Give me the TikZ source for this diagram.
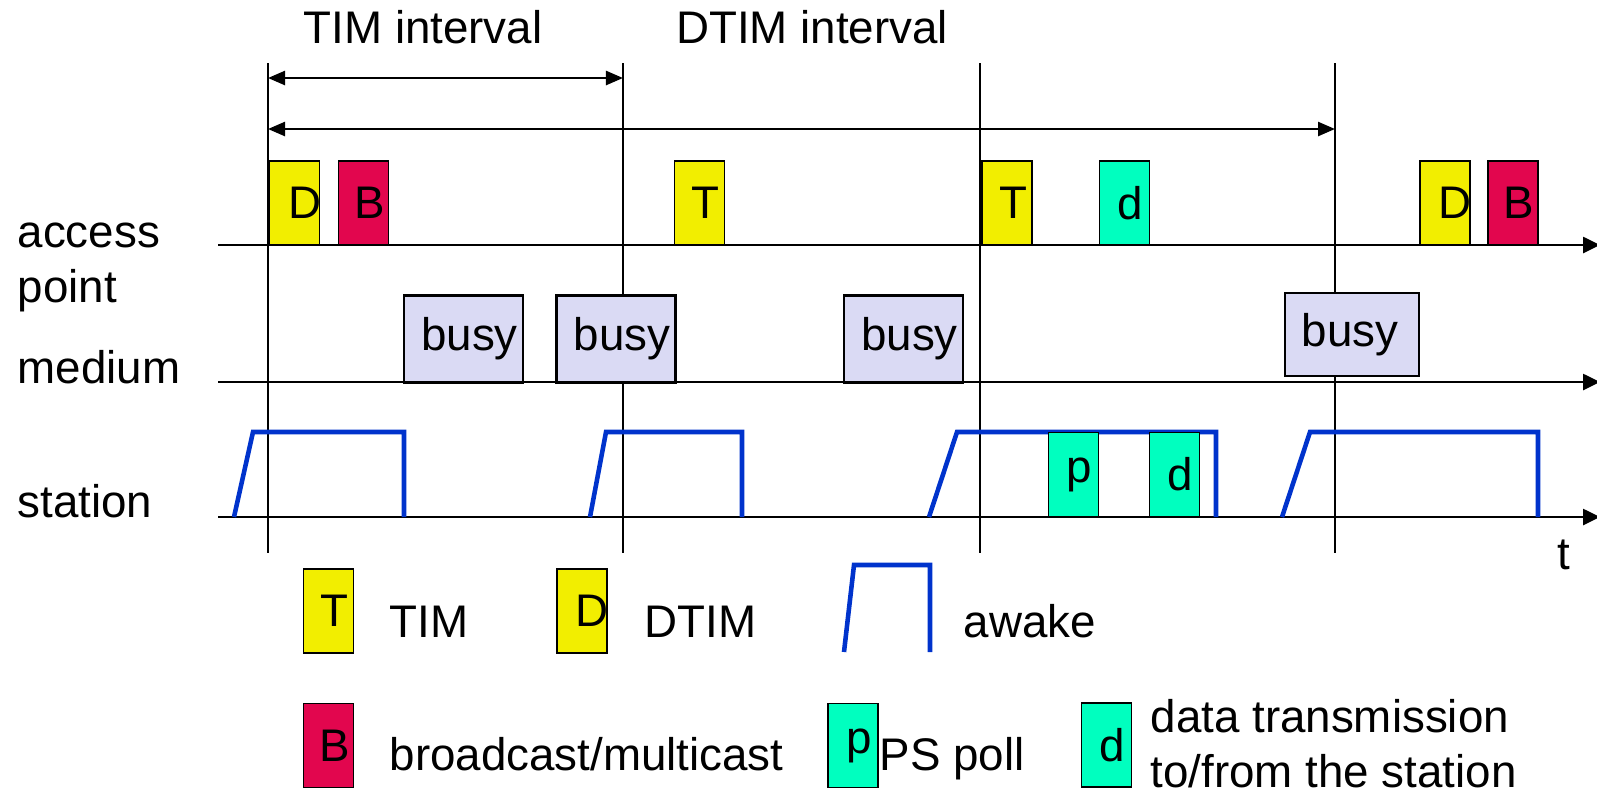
\documentclass[tikz,border=0pt]{standalone}
\usepackage{fontspec}
\setmainfont{Liberation Sans}
\usetikzlibrary{arrows.meta}

\definecolor{timyellow}{RGB}{242,238,0}
\definecolor{bcastred}{RGB}{226,6,78}
\definecolor{datagreen}{RGB}{0,255,191}
\definecolor{busyblue}{RGB}{218,218,244}
\definecolor{awakeblue}{RGB}{0,51,204}

\begin{document}
\begin{tikzpicture}[x=0.01cm, y=-0.01cm]
	\tikzset{font=\fontsize{13}{15.6}\selectfont,
		frame/.style={draw, line width=0.5pt, inner sep=0pt, minimum width=0.5cm, minimum height=0.84cm},
		tim/.style={frame, fill=timyellow},
		bcast/.style={frame, fill=bcastred},
		data/.style={frame, fill=datagreen},
		busybox/.style={draw, line width=0.6pt, fill=busyblue, inner sep=0pt, minimum width=1.19cm, minimum height=0.87cm},
		sym/.style={label={[xshift=0.06cm]center:#1}},
		symr/.style={label={[xshift=0.1cm]center:#1}},
		axis/.style={-{Triangle[length=0.17cm, width=0.16cm]}, line width=0.75pt},
		dim/.style={{Triangle[length=0.17cm, width=0.14cm]}-{Triangle[length=0.17cm, width=0.14cm]}, line width=0.7pt},
		beacon/.style={line width=0.45pt},
		awake/.style={draw=awakeblue, line width=1.3pt},
		tag/.style={anchor=base west, inner sep=0pt, align=left}
	}
	\useasboundingbox (0,0) rectangle (1597,796);

	% beacon instants
	\foreach \x/\n in {268/0, 623/1, 980/2, 1335/3} {
		\coordinate (top\n) at (\x,63);
		\coordinate (bot\n) at (\x,553);
		\draw[beacon] (top\n) -- (bot\n);
	}

	% intervals
	\coordinate (timL) at (268,78);
	\coordinate (timR) at (623,78);
	\coordinate (dtimL) at (268,129);
	\coordinate (dtimR) at (1335,129);
	\draw[dim] (timL) -- (timR);
	\draw[dim] (dtimL) -- (dtimR);
	\node[anchor=base] (timtxt) at (423,43) {TIM interval};
	\node[anchor=base] (dtimtxt) at (812,43) {DTIM interval};

	% time axes
	\coordinate (apS) at (218,245);
	\coordinate (apE) at (1600,245);
	\coordinate (medS) at (218,382);
	\coordinate (medE) at (1600,382);
	\coordinate (staS) at (218,517);
	\coordinate (staE) at (1600,517);
	\draw[axis] (apS) -- (apE);
	\draw[axis] (medS) -- (medE);
	\draw[axis] (staS) -- (staE);
	\node[tag] (aplbl) at (17,302) {access\\point};
	\node[tag] (medlbl) at (17,383) {medium};
	\node[tag] (stalbl) at (17,517) {station};
	\node[anchor=base] (tlbl) at (1564,569) {t};

	% station awake periods
	\draw[awake] (234,517) -- (253,432) -- (404,432) -- (404,517);
	\draw[awake] (590,517) -- (606,432) -- (742,432) -- (742,517);
	\draw[awake] (929,517) -- (957,432) -- (1216,432) -- (1216,517);
	\draw[awake] (1282,517) -- (1310,432) -- (1538,432) -- (1538,517);

	% access point
	\node[tim, symr=D] (apD1) at (294.5,203) {};
	\node[bcast, sym=B] (apB1) at (363.5,203) {};
	\node[tim, sym=T] (apT1) at (699.5,203) {};
	\node[tim, sym=T] (apT2) at (1007,203) {};
	\node[data, sym=d] (apd1) at (1124.5,203) {};
	\node[tim, symr=D] (apD2) at (1445,203) {};
	\node[bcast, sym=B] (apB2) at (1513,203) {};

	% medium
	\node[busybox, sym=busy] (busy1) at (463.5,339) {};
	\node[busybox, sym=busy] (busy2) at (616,339) {};
	\node[busybox, sym=busy] (busy3) at (903.5,339) {};
	\node[busybox, label={[xshift=-0.02cm]center:busy}, minimum width=1.34cm, minimum height=0.83cm] (busy4) at (1352,334.5) {};

	% station
	\node[data, sym=p] (stap) at (1073.5,474.5) {};
	\node[data, sym=d] (stad) at (1174.5,474.5) {};

	% key
	\node[tim, sym=T] (keyT) at (328.5,611) {};
	\node[tag] (keyTtxt) at (389,637) {TIM};
	\node[tim, symr=D] (keyD) at (582,611) {};
	\node[tag] (keyDtxt) at (644,637) {DTIM};
	\draw[awake] (844,652) -- (854,565) -- (930,565) -- (930,652);
	\node[tag] (keyawtxt) at (963,637) {awake};
	\node[bcast, sym=B] (keyB) at (328.5,745.5) {};
	\node[tag] (keyBtxt) at (389,770) {broadcast/multicast};
	\node[data, sym=p] (keyp) at (853,745.5) {};
	\node[tag] (keyptxt) at (879,770) {PS poll};
	\node[data, sym=d] (keyd) at (1106.5,745) {};
	\node[tag] (keydtxt) at (1150,787) {data transmission\\to/from the station};
\end{tikzpicture}
\end{document}
